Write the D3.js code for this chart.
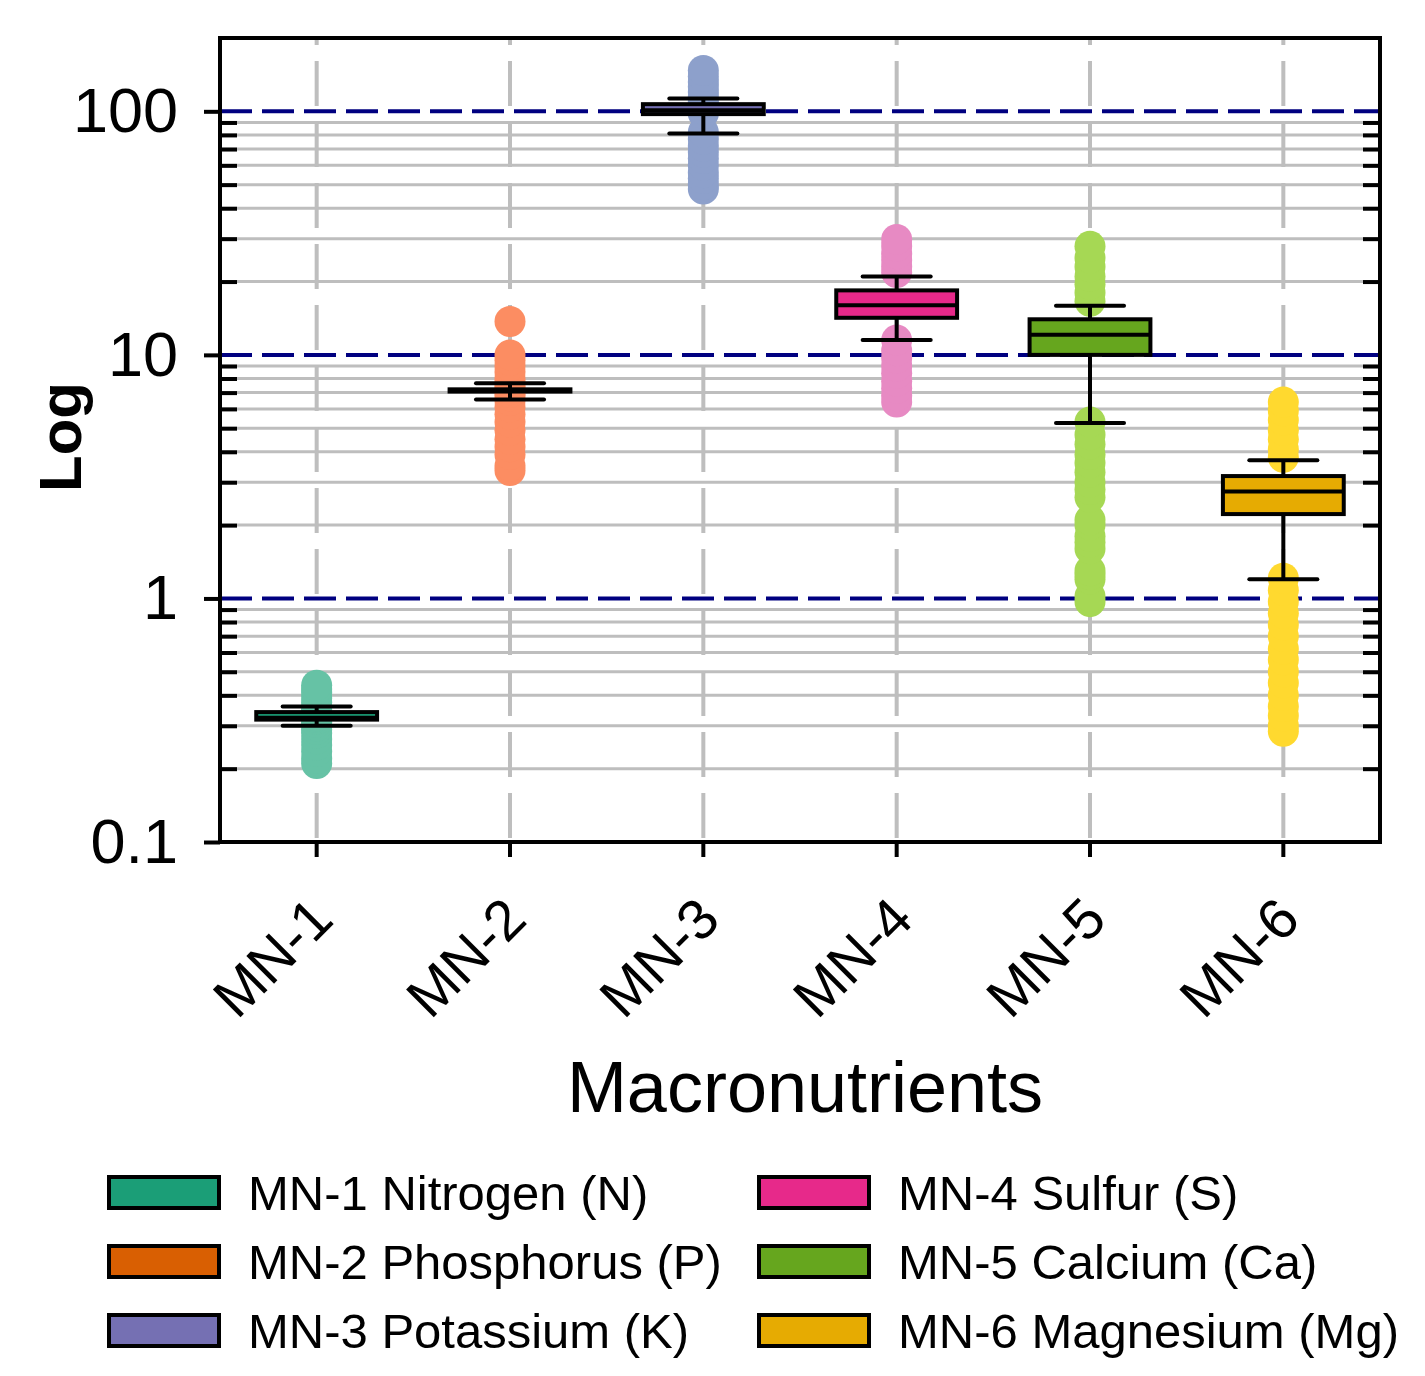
<!DOCTYPE html>
<html>
<head>
<meta charset="utf-8">
<script src="https://cdn.jsdelivr.net/npm/d3@7"></script>
<style>
  body { margin: 0; background: #fff; }
  svg { display: block; font-family: "Liberation Sans", Arial, sans-serif; }
</style>
</head>
<body>
<svg id="chart"></svg>
<script>
// categories and legend
const categories = ["MN-1", "MN-2", "MN-3", "MN-4", "MN-5", "MN-6"];
const legendLabels = [
  "MN-1 Nitrogen (N)", "MN-2 Phosphorus (P)", "MN-3 Potassium (K)",
  "MN-4 Sulfur (S)", "MN-5 Calcium (Ca)", "MN-6 Magnesium (Mg)"
];

// box statistics
const q1         = [0.318, 7.07, 97.4, 14.2, 10.0, 2.22];
const median     = [0.324, 7.15, 101.1, 16.0, 12.1, 2.75];
const q3         = [0.3415, 7.22, 107, 18.4, 14.0, 3.18];
const whiskerLow = [0.30, 6.56, 81.1, 11.5, 5.25, 1.20];
const whiskerHigh = [0.36, 7.64, 113, 21.0, 15.9, 3.69];

// individual samples
const pointsMN1 = [0.21, 0.22, 0.235, 0.25, 0.265, 0.28, 0.29, 0.30, 0.31, 0.32, 0.325, 0.33, 0.335, 0.34, 0.35, 0.36, 0.375, 0.39, 0.41, 0.425, 0.44];
const pointsMN2 = [3.35, 3.5, 3.9, 4.2, 4.5, 4.9, 5.3, 5.7, 6.1, 6.5, 6.8, 7.0, 7.2, 7.4, 7.7, 8.0, 8.5, 9.0, 9.5, 10.0, 13.7];
const pointsMN3 = [48, 50, 53, 56, 60, 64, 68, 72, 77, 82, 98, 102, 106, 110, 115, 120, 126, 132, 139, 147];
const pointsMN4 = [6.4, 6.8, 7.3, 7.8, 8.4, 9.0, 9.7, 10.4, 11.5, 21.8, 23, 24.5, 26, 28, 29.8];
const pointsMN5 = [0.97, 1.02, 1.2, 1.25, 1.3, 1.6, 1.7, 1.8, 2.0, 2.1, 2.6, 2.8, 3.0, 3.3, 3.6, 3.9, 4.3, 4.7, 5.3, 16.6, 18, 19.5, 21, 23, 25, 27.9];
const pointsMN6 = [0.285, 0.3, 0.33, 0.36, 0.4, 0.45, 0.5, 0.56, 0.62, 0.7, 0.78, 0.87, 0.97, 1.08, 1.21, 3.8, 4.1, 4.5, 4.9, 5.4, 5.9, 6.4];
const pointSeries = [pointsMN1, pointsMN2, pointsMN3, pointsMN4, pointsMN5, pointsMN6];

// y axis
const yDomain = [0.1, 200];
const yMajor = [0.1, 1, 10, 100];
const yMajorLabels = ["0.1", "1", "10", "100"];
const refLines = [1, 10, 100];

// colours
const boxColors = ["#1b9e77", "#d95f02", "#7570b3", "#e7298a", "#66a61e", "#e6ab02"];
const pointColors = ["#66c2a5", "#fc8d62", "#8da0cb", "#e78ac3", "#a6d854", "#ffd92f"];

const W = 1425, H = 1376;
const mLeft = 220, mRight = 1380, mTop = 38, mBottom = 842;

const svg = d3.select("#chart").attr("width", W).attr("height", H);

const x = d3.scaleBand().domain(categories).range([mLeft, mRight]).padding(0);
const y = d3.scaleLog().domain(yDomain).range([mBottom, mTop]);
const cx = d => x(d) + x.bandwidth() / 2;

const minor = y.ticks().filter(v => !yMajor.some(m => Math.abs(m - v) < 1e-9) && v < yDomain[1]);

// grey minor grid
svg.append("g").selectAll("line").data(minor).join("line")
  .attr("x1", mLeft).attr("x2", mRight)
  .attr("y1", d => y(d)).attr("y2", d => y(d))
  .attr("stroke", "#bebebe").attr("stroke-width", 3);

// vertical dashed grid
svg.append("g").selectAll("line").data(categories).join("line")
  .attr("x1", cx).attr("x2", cx)
  .attr("y1", mTop).attr("y2", mBottom)
  .attr("stroke", "#bebebe").attr("stroke-width", 4)
  .attr("stroke-dasharray", "45,16").attr("stroke-dashoffset", 38);

// navy reference lines at decades
svg.append("g").selectAll("line").data(refLines).join("line")
  .attr("x1", mLeft).attr("x2", mRight)
  .attr("y1", d => y(d)).attr("y2", d => y(d))
  .attr("stroke", "#000080").attr("stroke-width", 4)
  .attr("stroke-dasharray", "32,10");

// points
const pts = svg.append("g");
pointSeries.forEach((vals, i) => {
  pts.selectAll(null).data(vals).join("circle")
    .attr("cx", cx(categories[i]))
    .attr("cy", d => y(d))
    .attr("r", 15.5)
    .attr("fill", pointColors[i]);
});

// boxes
const boxW = x.bandwidth() * 0.625;
const capW = x.bandwidth() * 0.352;
const bx = svg.append("g").attr("stroke", "#000").attr("stroke-width", 4);
categories.forEach((c, i) => {
  const xc = cx(c);
  bx.append("line").attr("x1", xc).attr("x2", xc).attr("y1", y(q3[i])).attr("y2", y(whiskerHigh[i]));
  bx.append("line").attr("x1", xc).attr("x2", xc).attr("y1", y(q1[i])).attr("y2", y(whiskerLow[i]));
  bx.append("line").attr("x1", xc - capW / 2).attr("x2", xc + capW / 2).attr("y1", y(whiskerHigh[i])).attr("y2", y(whiskerHigh[i])).attr("stroke-linecap", "round");
  bx.append("line").attr("x1", xc - capW / 2).attr("x2", xc + capW / 2).attr("y1", y(whiskerLow[i])).attr("y2", y(whiskerLow[i])).attr("stroke-linecap", "round");
  bx.append("rect").attr("x", xc - boxW / 2).attr("width", boxW)
    .attr("y", y(q3[i])).attr("height", y(q1[i]) - y(q3[i]))
    .attr("fill", boxColors[i]);
  bx.append("line").attr("x1", xc - boxW / 2).attr("x2", xc + boxW / 2).attr("y1", y(median[i])).attr("y2", y(median[i]));
});

// axes
const axisStyle = g => {
  g.select(".domain").remove();
  g.selectAll(".tick line").attr("stroke", "#000").attr("stroke-width", 4);
};

svg.append("g").attr("transform", `translate(${mLeft},0)`)
  .call(d3.axisLeft(y).tickValues(yMajor).tickSize(16).tickPadding(26)
    .tickFormat((d, i) => yMajorLabels[i]))
  .call(axisStyle)
  .call(g => g.selectAll("text").attr("font-size", 63).attr("fill", "#000")
    .attr("font-family", "'Liberation Sans', Arial, sans-serif"));

svg.append("g").attr("transform", `translate(${mLeft},0)`)
  .call(d3.axisLeft(y).tickValues(minor).tickSize(-17).tickFormat(""))
  .call(axisStyle);

svg.append("g").attr("transform", `translate(${mRight},0)`)
  .call(d3.axisRight(y).tickValues(minor).tickSize(-17).tickFormat(""))
  .call(axisStyle);

svg.append("g").attr("transform", `translate(0,${mBottom})`)
  .call(d3.axisBottom(x).tickSize(15).tickFormat(""))
  .call(axisStyle);

// rotated category labels
svg.append("g").selectAll("text").data(categories).join("text")
  .attr("transform", d => `translate(${cx(d) + 19},${mBottom + 80}) rotate(-45)`)
  .attr("text-anchor", "end")
  .attr("font-size", 57)
  .text(d => d);

// frame
svg.append("rect").attr("x", mLeft).attr("y", mTop)
  .attr("width", mRight - mLeft).attr("height", mBottom - mTop)
  .attr("fill", "none").attr("stroke", "#000").attr("stroke-width", 4);

// axis titles
svg.append("text").attr("x", 805).attr("y", 1112)
  .attr("text-anchor", "middle").attr("font-size", 72).text("Macronutrients");

svg.append("text").attr("transform", "translate(81,437) rotate(-90)")
  .attr("text-anchor", "middle").attr("font-size", 60).attr("font-weight", "bold").text("Log");

// legend
const leg = svg.append("g");
legendLabels.forEach((lab, i) => {
  const col = Math.floor(i / 3), row = i % 3;
  const lx = 109 + col * 650, ly = 1177 + row * 69;
  leg.append("rect").attr("x", lx).attr("y", ly).attr("width", 110).attr("height", 31)
    .attr("fill", boxColors[i]).attr("stroke", "#000").attr("stroke-width", 4);
  leg.append("text").attr("x", lx + 139).attr("y", ly + 33)
    .attr("font-size", 49).text(lab);
});
</script>
</body>
</html>
